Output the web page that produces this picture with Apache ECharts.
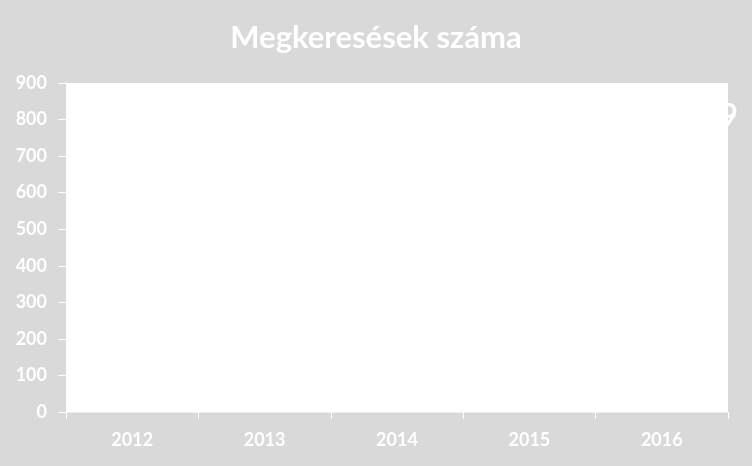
<!DOCTYPE html>
<html><head><meta charset="utf-8">
<script src="https://cdn.jsdelivr.net/npm/echarts@6/dist/echarts.min.js"></script>
<style>html,body{margin:0;padding:0;background:#d9d9d9;}#c{width:752px;height:466px;}</style>
</head><body><div id="c"></div>
<script>
var categories = ['2012', '2013', '2014', '2015', '2016'];
var requests = [null, null, null, null, 809];
var yTicks = { min: 0, max: 900, interval: 100 };
var titleText = 'Megkeresések száma';

var chart = echarts.init(document.getElementById('c'));
chart.setOption({
  backgroundColor: '#d9d9d9',
  animation: false,
  title: {
    text: titleText, left: 'center', top: 17,
    textStyle: { color: '#ffffff', fontFamily: 'Lato', fontWeight: 'bold', fontSize: 31 }
  },
  grid: { left: 66, right: 24, top: 83, bottom: 54, show: true, backgroundColor: '#ffffff', borderWidth: 0 },
  xAxis: {
    type: 'category', data: categories, boundaryGap: true,
    axisLine: { lineStyle: { color: '#eeeeee', width: 1 } },
    axisTick: { show: true, length: 7, lineStyle: { color: '#ffffff' } },
    axisLabel: { color: '#ffffff', fontFamily: 'Lato', fontWeight: 'bold', fontSize: 18, margin: 19 }
  },
  yAxis: {
    type: 'value', min: yTicks.min, max: yTicks.max, interval: yTicks.interval,
    splitLine: { show: false },
    axisLine: { show: true, lineStyle: { color: '#ffffff' } },
    axisTick: { show: true, length: 8, lineStyle: { color: '#ffffff' } },
    axisLabel: { color: '#ffffff', fontFamily: 'Lato', fontWeight: 'bold', fontSize: 18, margin: 19 }
  },
  series: [{
    type: 'line', data: requests, clip: false,
    symbol: 'circle', symbolSize: 1,
    itemStyle: { color: '#ffffff' }, lineStyle: { color: '#ffffff' },
    label: { show: true, position: 'right', distance: 20, color: '#ffffff',
      fontFamily: 'Lato', fontWeight: 'bold', fontSize: 32 }
  }]
});
</script></body></html>
